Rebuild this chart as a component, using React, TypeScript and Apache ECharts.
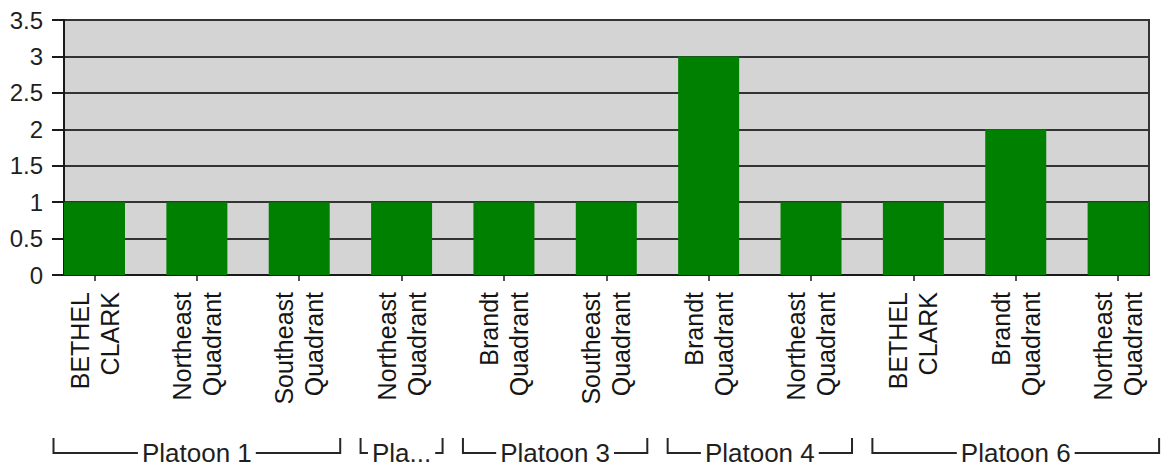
import React, { useEffect, useRef } from "react";
import * as echarts from "echarts";

const categories = [
  "BETHEL\nCLARK",
  "Northeast\nQuadrant",
  "Southeast\nQuadrant",
  "Northeast\nQuadrant",
  "Brandt\nQuadrant",
  "Southeast\nQuadrant",
  "Brandt\nQuadrant",
  "Northeast\nQuadrant",
  "BETHEL\nCLARK",
  "Brandt\nQuadrant",
  "Northeast\nQuadrant",
];
const counts = [1, 1, 1, 1, 1, 1, 3, 1, 1, 2, 1];
const groupNames = ["Platoon 1", "Platoon 2", "Platoon 3", "Platoon 4", "Platoon 6"];
const groupStarts = [0, 3, 4, 6, 8];
const groupEnds = [2, 3, 5, 7, 10];
const yMin = 0;
const yMax = 3.5;
const yStep = 0.5;

const FONT_FAMILY = '"Liberation Sans", Arial, Helvetica, sans-serif';
const GROUP_FONT = `26px ${FONT_FAMILY}`;

let measureCtx: CanvasRenderingContext2D | null = null;
function textWidth(t: string, font: string): number {
  if (!measureCtx) measureCtx = document.createElement("canvas").getContext("2d");
  if (!measureCtx) return t.length * 12;
  measureCtx.font = font;
  return measureCtx.measureText(t).width;
}

export default function App() {
  const ref = useRef<HTMLDivElement>(null);
  useEffect(() => {
    if (!ref.current) return;
    const chart = echarts.init(ref.current, undefined, { renderer: "svg" });
    const line = "#333333";
    const option: any = {
      animation: false,
      backgroundColor: "#ffffff",
      textStyle: { fontFamily: FONT_FAMILY },
      grid: [
        {
          left: 64,
          top: 20,
          width: 1085,
          height: 255,
          show: true,
          backgroundColor: "#d4d4d4",
          borderColor: line,
          borderWidth: 2,
          containLabel: false,
        },
        {
          left: 94.5,
          top: 20,
          width: 1023.6,
          height: 255,
          containLabel: false,
        },
      ],
      xAxis: [
        {
          type: "category",
          gridIndex: 0,
          data: categories,
          axisLine: { show: true, lineStyle: { color: "#1a1a1a", width: 2 } },
          axisTick: { show: false },
          axisLabel: { show: false },
          splitLine: { show: false },
        },
        {
          type: "category",
          gridIndex: 1,
          data: categories,
          boundaryGap: false,
          axisLine: { show: false },
          axisTick: { show: true, length: 6, lineStyle: { color: "#1a1a1a", width: 1.5 } },
          axisLabel: {
            show: true,
            interval: 0,
            rotate: 90,
            margin: 17,
            fontSize: 25,
            lineHeight: 30,
            color: "#151515",
            fontFamily: FONT_FAMILY,
          },
          splitLine: { show: false },
        },
      ],
      yAxis: [
        {
          type: "value",
          gridIndex: 0,
          min: yMin,
          max: yMax,
          interval: yStep,
          axisLine: { show: true, lineStyle: { color: "#1a1a1a", width: 2 } },
          axisTick: { show: true, length: 12, lineStyle: { color: "#1a1a1a", width: 2 } },
          axisLabel: {
            fontSize: 24,
            color: "#1f1f1f",
            margin: 21,
            fontFamily: FONT_FAMILY,
          },
          splitLine: { show: true, lineStyle: { color: line, width: 2 } },
        },
        {
          type: "value",
          gridIndex: 1,
          min: yMin,
          max: yMax,
          interval: yStep,
          show: false,
          splitLine: { show: false },
        },
      ],
      series: [
        {
          type: "bar",
          xAxisIndex: 1,
          yAxisIndex: 1,
          data: counts,
          barWidth: 61,
          clip: false,
          itemStyle: { color: "#008000" },
          z: 3,
        },
        {
          type: "custom",
          xAxisIndex: 1,
          yAxisIndex: 1,
          clip: false,
          silent: true,
          data: groupStarts.map((s, i) => [s, groupEnds[i]]),
          encode: { x: [0, 1] },
          renderItem: (params: any, api: any) => {
            const i = params.dataIndex;
            const a = api.coord([api.value(0), 0]);
            const b = api.coord([api.value(1), 0]);
            const left = a[0] - 41;
            const right = b[0] + 41;
            const y = a[1] + 178;
            const top = y - 15;
            const maxW = right - left - 20;
            let label = groupNames[i];
            let w = textWidth(label, GROUP_FONT);
            if (w > maxW) {
              let n = label.length;
              while (n > 0 && textWidth(label.slice(0, n) + "...", GROUP_FONT) > maxW) n--;
              label = label.slice(0, n) + "...";
              w = textWidth(label, GROUP_FONT);
            }
            const cx = (left + right) / 2;
            const tx0 = Math.max(left, cx - w / 2 - 4);
            const tx1 = Math.min(right, cx + w / 2 + 4);
            const ls = { stroke: "#262626", lineWidth: 2, fill: null };
            return {
              type: "group",
              children: [
                {
                  type: "polyline",
                  shape: { points: [[left, top], [left, y], [tx0, y]] },
                  style: ls,
                },
                {
                  type: "polyline",
                  shape: { points: [[tx1, y], [right, y], [right, top]] },
                  style: ls,
                },
                {
                  type: "text",
                  style: {
                    text: label,
                    x: cx,
                    y: y,
                    align: "center",
                    verticalAlign: "middle",
                    font: GROUP_FONT,
                    fill: "#1f1f1f",
                  },
                },
              ],
            };
          },
        },
      ],
    };
    chart.setOption(option);
    return () => chart.dispose();
  }, []);
  return (
    <div
      ref={ref}
      style={{ position: "fixed", left: 0, top: 0, width: 1164, height: 470, background: "#fff" }}
    />
  );
}
